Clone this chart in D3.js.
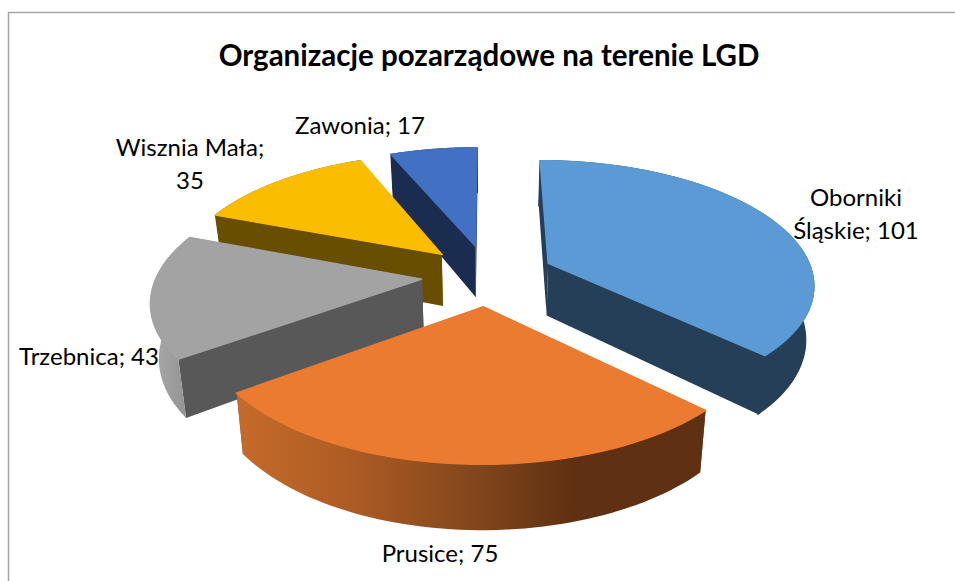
<!DOCTYPE html>
<html>
<head>
<meta charset="utf-8">
<script src="https://cdn.jsdelivr.net/npm/d3@7"></script>
<style>
  body { margin: 0; background: #fff; }
  text { font-family: Lato, "Open Sans", sans-serif; fill: #000; }
</style>
</head>
<body>
<div id="chart"></div>
<script>
// Chart data
const categories = ["Oborniki Śląskie", "Prusice", "Trzebnica", "Wisznia Mała", "Zawonia"];
const values = [101, 75, 43, 35, 17];
const chartTitle = "Organizacje pozarządowe na terenie LGD";

// Colours per slice
const topColors = ["#5B9AD5", "#EB7B30", "#A3A3A3", "#FBBD00", "#4270C2"];
const wallColors = ["#243F57", "#7A4019", "#585858", "#684E00", "#1A2C50"];

// Label lines and anchor positions
const labelLines = [["Oborniki", "Śląskie; 101"], ["Prusice; 75"], ["Trzebnica; 43"], ["Wisznia Mała;", "35"], ["Zawonia; 17"]];
const labelX = [856, 440, 89, 190, 360];
const labelY = [206, 562, 365, 156, 134];

// Back to front, so nearer slices cover farther ones
const drawOrder = [4, 3, 0, 2, 1];

// Perspective settings for the tilted pie
const view = { cx: 488, cy: 275, a: 265, b: 122, k: 0.156, explode: 0.25, depth: 53, shrink: 0.975 };

const width = 955, height = 581;

const svg = d3.select("#chart")
    .append("svg")
    .attr("width", width)
    .attr("height", height)
    .style("display", "block");

// Project a point of the unit pie plane to the screen (h: 0 top face, 1 bottom face)
function project(u, v, h) {
    const s = 1 / (1 - view.k * v);
    const x = view.a * u * s;
    const y = view.b * v * s + h * view.depth * s;
    return [view.cx + x * (h ? view.shrink : 1), view.cy + y];
}

const pie = d3.pie().sort(null).value(d => d);
const arcs = pie(values);
const line = d3.line();

// Point of a slice on its rim (r = 1) or at its apex (r = 0)
function slicePoint(d, angle, r, h) {
    const mid = (d.startAngle + d.endAngle) / 2;
    const u = r * Math.sin(angle) + view.explode * Math.sin(mid);
    const v = -r * Math.cos(angle) - view.explode * Math.cos(mid);
    return project(u, v, h);
}

function rimPoints(d, h) {
    const n = 60;
    return d3.range(n + 1).map(i => slicePoint(d, d.startAngle + (d.endAngle - d.startAngle) * i / n, 1, h));
}

// Frame lines of the chart area
svg.append("path")
    .attr("d", `M8.5,${height}V12.5H${width}`)
    .attr("fill", "none")
    .attr("stroke", "#a6a6a6")
    .attr("stroke-width", 1.5);

// Gradients for the rim of the front slices
const defs = svg.append("defs");
const prusiceGrad = defs.append("linearGradient").attr("id", "rim-1");
prusiceGrad.selectAll("stop")
    .data([[0, "#C56B2A"], [0.25, "#AD5B24"], [0.5, "#83471C"], [0.72, "#5F3012"], [1, "#5F3012"]])
    .join("stop")
    .attr("offset", d => d[0])
    .attr("stop-color", d => d[1]);
const trzebnicaGrad = defs.append("linearGradient").attr("id", "rim-2");
trzebnicaGrad.selectAll("stop")
    .data([[0, "#ABABAB"], [1, "#8C8C8C"]])
    .join("stop")
    .attr("offset", d => d[0])
    .attr("stop-color", d => d[1]);

// Draw the slices
drawOrder.forEach(i => {
    const d = arcs[i];
    const g = svg.append("g").attr("class", "slice");
    const topRim = rimPoints(d, 0);
    const bottomRim = rimPoints(d, 1);
    const rimFill = i === 1 || i === 2 ? `url(#rim-${i})` : wallColors[i];

    // Radial walls
    [d.endAngle, d.startAngle].forEach(angle => {
        g.append("path")
            .attr("d", line([
                slicePoint(d, angle, 0, 0),
                slicePoint(d, angle, 1, 0),
                slicePoint(d, angle, 1, 1),
                slicePoint(d, angle, 0, 1)
            ]) + "Z")
            .attr("fill", wallColors[i]);
    });

    // Outer wall
    g.append("path")
        .attr("d", line(topRim.concat(bottomRim.slice().reverse())) + "Z")
        .attr("fill", rimFill)
        .attr("stroke", i === 1 || i === 2 ? "none" : wallColors[i])
        .attr("stroke-width", 1.2);

    // Top face, stroked in its own colour to hide the wall's edge behind it
    g.append("path")
        .attr("d", line([slicePoint(d, 0, 0, 0)].concat(topRim)) + "Z")
        .attr("fill", topColors[i])
        .attr("stroke", topColors[i])
        .attr("stroke-width", 1.4);
});

// Title
svg.append("text")
    .attr("x", 489)
    .attr("y", 66)
    .attr("text-anchor", "middle")
    .style("font-size", "29.5px")
    .style("font-weight", "bold")
    .text(chartTitle);

// Data labels
categories.forEach((c, i) => {
    const label = svg.append("text")
        .attr("text-anchor", "middle")
        .attr("x", labelX[i])
        .attr("y", labelY[i])
        .style("font-size", "24px");
    labelLines[i].forEach((t, j) => {
        label.append("tspan")
            .attr("x", labelX[i])
            .attr("dy", j ? 33 : 0)
            .text(t);
    });
});
</script>
</body>
</html>
